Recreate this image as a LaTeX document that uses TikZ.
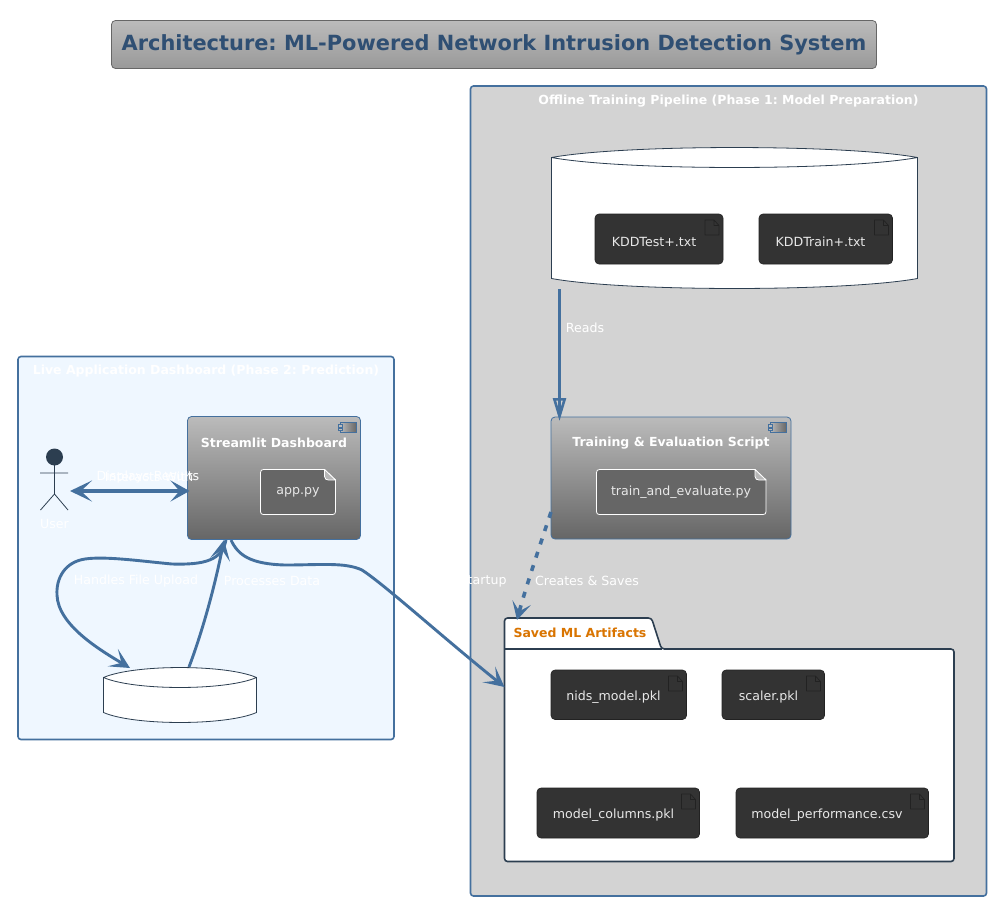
\documentclass[tikz,border=0pt]{standalone}
\usepackage{fontspec}
\setmainfont{DejaVu Sans}
\usetikzlibrary{arrows.meta,calc,shapes.geometric}
\definecolor{edge}{HTML}{44709E}
\definecolor{navy}{HTML}{2C3E50}
\definecolor{titlec}{HTML}{2F4F73}
\definecolor{darkbox}{HTML}{333333}
\definecolor{darkline}{HTML}{222222}
\definecolor{panelg}{HTML}{D3D3D3}
\definecolor{panelb}{HTML}{EFF7FF}
\definecolor{orangec}{HTML}{D97400}
\definecolor{gtop}{HTML}{BBBBBB}
\definecolor{gbot}{HTML}{666666}
\definecolor{filetxt}{HTML}{E8E8E8}
\tikzset{
  x=1pt,y=-1pt,
  every node/.style={font=\fontsize{12.6}{15}\selectfont,inner sep=0pt,outer sep=0pt},
  panel/.style={draw=edge,line width=1.6pt,rounded corners=3pt},
  comp/.style={draw=edge,line width=.8pt,rounded corners=4pt,top color=gtop,bottom color=gbot},
  filebox/.style={fill=darkbox,draw=darkline,line width=.6pt,rounded corners=4pt},
  whitelbl/.style={text=white},
  boldlbl/.style={font=\fontsize{12.5}{15}\selectfont\bfseries},
  ftxt/.style={text=filetxt},
  kite/.style={-{Stealth[length=20pt,width=20pt,inset=10pt]}},
  conn/.style={draw=edge,line width=2.9pt,kite}
}
\newcommand{\fileitem}[7]{%
  \path[filebox] (#2,#3) rectangle (#4,#5);
  \draw[darkline,line width=.7pt,line join=round] ($(#4,#3)+(-18,6)$) -- ++(9,0) -- ++(5,5.5) -- ++(0,9.5) -- ++(-14,0) -- cycle
    ($(#4,#3)+(-9,6)$) -- ++(0,5.5) -- ++(5,0);
  \node[ftxt] (#1) at (#7,{(#3+#5)/2+2.5}) {#6};
}
% note box with cut corner: x1,y1,x2,y2
\newcommand{\notebox}[4]{%
  \draw[white,line width=.8pt,fill=gbot,line join=round] ({#1+3},#2) -- ({#3-11},#2) -- (#3,{#2+10.5}) -- (#3,{#4-3})
    .. controls (#3,{#4-1}) and ({#3-1},#4) .. ({#3-3},#4) -- ({#1+3},#4)
    .. controls ({#1+1},#4) and (#1,{#4-1}) .. (#1,{#4-3}) -- (#1,{#2+3}) .. controls (#1,{#2+1}) and ({#1+1},#2) .. ({#1+3},#2) -- cycle;
  \draw[white,line width=.8pt,fill=panelg!75!gbot,line join=round] ({#3-11},#2) -- ({#3-11},{#2+7}) .. controls ({#3-11},{#2+9.5}) and ({#3-9},{#2+10.5}) .. ({#3-7},{#2+10.5}) -- (#3,{#2+10.5}) -- cycle;
}
\newcommand{\dbcyl}[5]{%
  \pgfmathsetmacro{\cw}{#3-#1}
  \path[fill=white,draw=navy,line width=.8pt] (#1,{#2+#5}) -- (#1,{#4-#5})
    .. controls ({#1+.2*\cw},{#4+.33*#5}) and ({#3-.2*\cw},{#4+.33*#5}) .. (#3,{#4-#5}) -- (#3,{#2+#5})
    .. controls ({#3-.2*\cw},{#2-.33*#5}) and ({#1+.2*\cw},{#2-.33*#5}) .. (#1,{#2+#5}) -- cycle
    (#1,{#2+#5}) .. controls ({#1+.2*\cw},{#2+2.33*#5}) and ({#3-.2*\cw},{#2+2.33*#5}) .. (#3,{#2+#5});
}
\begin{document}
\frenchspacing
\begin{tikzpicture}
\useasboundingbox (0,0) rectangle (996,906);
\path[fill=white] (0,0) rectangle (996,906);

% title
\node[draw=gbot,line width=.8pt,rounded corners=4pt,top color=gtop,bottom color=gtop!60!gbot,minimum width=765pt,minimum height=48pt] (titlebox) at (494,44.5) {};
\node[text=titlec,font=\fontsize{20.9}{24}\selectfont\bfseries] (titletext) at (494,45) {Architecture: ML-Powered Network Intrusion Detection System};

% panels
\node[panel,fill=panelg,minimum width=516pt,minimum height=810pt] (offline) at (728.5,491) {};
\node[panel,fill=panelb,minimum width=376pt,minimum height=383pt] (live) at (206,548) {};
\node[whitelbl,boldlbl] (offlinet) at (728.5,101) {Offline Training Pipeline (Phase 1: Model Preparation)};
\node[whitelbl,boldlbl] (livet) at (206,371.5) {Live Application Dashboard (Phase 2: Prediction)};

% database with files
\dbcyl{551.5}{147.5}{917.5}{288.5}{10}
\coordinate (dbout) at (559.5,289);
\fileitem{kddtest}{595}{214}{723}{264}{KDDTest+.txt}{654}
\fileitem{kddtrain}{759}{214}{892.5}{264}{KDDTrain+.txt}{820.5}

% training component
\node[comp,minimum width=240pt,minimum height=122pt] (train) at (671,478) {};
\node[whitelbl,boldlbl] (traint) at (671,443) {Training \& Evaluation Script};
\notebox{596.5}{469.5}{766}{514.5}
\node[ftxt] (trainpyt) at (681,492.5) {train\_and\_evaluate.py};

% streamlit component
\node[comp,minimum width=173pt,minimum height=123pt] (dash) at (274,478) {};
\node[whitelbl,boldlbl] (dasht) at (274,443) {Streamlit Dashboard};
\notebox{260.5}{469.5}{335.5}{514.5}
\node[ftxt] (apppyt) at (298,492.5) {app.py};

% component glyphs
\foreach \gx/\gy in {340/422.5,770/422.5}{
  \draw[edge,line width=.8pt,left color=gtop,right color=gbot] (\gx,\gy) rectangle ++(16.5,10);
  \draw[edge,line width=.8pt,fill=gtop] (\gx-2,\gy+2) rectangle ++(4,2.5) (\gx-2,\gy+5.5) rectangle ++(4,2.5);
}

% package
\path[fill=white,draw=navy,line width=1.6pt,rounded corners=3pt,line join=round]
  (504.5,690) -- (504.5,618) -- (651.5,618) -- (661.5,649) -- (954,649) -- (954,861.5) -- (504.5,861.5) -- cycle;
\draw[navy,line width=1.2pt] (504.5,649) -- (661.5,649);
\coordinate (pkgtop) at (517,620);
\coordinate (pkgleft) at (504.5,687);
\node[text=orangec,boldlbl,anchor=west] (pkgt) at (513.5,632.5) {Saved ML Artifacts};

\fileitem{nids}{551}{670}{686.5}{719.5}{nids\_model.pkl}{613.5}
\fileitem{scaler}{722}{670}{824.5}{719.5}{scaler.pkl}{768.5}
\fileitem{cols}{537}{788}{699.5}{838}{model\_columns.pkl}{613.5}
\fileitem{perf}{736}{788}{928.5}{838}{model\_performance.csv}{827}

% upload cylinder
\dbcyl{103.5}{667.5}{256.5}{722.5}{10}
\coordinate (uptopl) at (130,668);
\coordinate (uptopr) at (189,667);

% actor
\node[circle,fill=navy,minimum size=17pt] (userhead) at (54.5,457) {};
\draw[navy,line width=.8pt] (54.5,465) -- (54.5,494) (40,473) -- (68,473) (54.5,494) -- (40.5,510) (54.5,494) -- (68,510);
\node[whitelbl] (usert) at (54.5,523.5) {User};
\coordinate (userr) at (70,491);

% connectors
\coordinate (dashl) at (189.5,491);
\draw[draw=edge,line width=3.3pt,{Stealth[length=22pt,width=21pt,inset=11pt]}-{Stealth[length=19pt,width=21pt,inset=9pt]}] (userr) -- (dashl);
\node[whitelbl] (l1) at (148,477) {Displays Results};
\node[whitelbl] (l2) at (149,477) {Interacts With};

\coordinate (dbotl) at (226,540);
\coordinate (dbotm) at (224,540);
\coordinate (dbotr) at (231,540);
\draw[conn] (dbotl) .. controls (222,560) and (205,565) .. (172,564)
  .. controls (140,561) and (105,556) .. (85,559) .. controls (65,562) and (56,578) .. (57,595)
  .. controls (58,625) and (100,650) .. (uptopl);
\draw[conn] (uptopr) .. controls (203,630) and (215,585) .. (dbotm);
\draw[conn] (dbotr) .. controls (238,555) and (250,564) .. (285,565)
  .. controls (320,565) and (345,562) .. (362,570) .. controls (385,585) and (440,635) .. (pkgleft);
\coordinate (trainin) at (559.5,421);
\draw[draw=edge,line width=3.4pt,-{Stealth[length=23pt,width=13pt,inset=0pt,open,line width=2.6pt,fill=panelg]}] (dbout) -- (trainin);
\draw[draw=edge,line width=3.4pt,shorten >=6pt] (dbout) -- (trainin);
\draw[draw=edge,line width=3.6pt,dash pattern=on 6pt off 8pt,-{Stealth[length=18pt,width=19pt,inset=9pt]}] (train.west |- 0,512) .. controls (540,545) and (525,590) .. (pkgtop);

\node[whitelbl] (l3) at (585,327.5) {Reads};
\node[whitelbl] (l4) at (136,581) {Handles File Upload};
\node[whitelbl] (l5) at (272,581) {Processes Data};
\node[whitelbl,anchor=east] (l6) at (506.5,581) {Startup};
\node[whitelbl] (l7) at (587,581) {Creates \& Saves};
\end{tikzpicture}
\end{document}
